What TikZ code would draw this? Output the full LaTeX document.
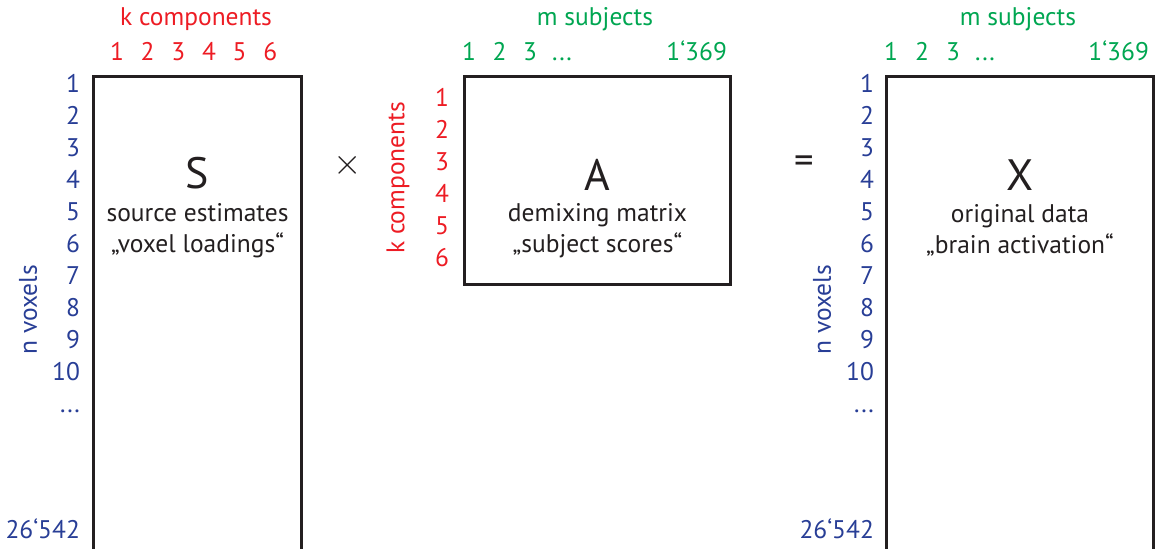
\documentclass[tikz,border=0pt]{standalone}
\usepackage{fontspec}
\setmainfont{PT Sans}
\usetikzlibrary{positioning, calc}
\definecolor{CompRed}{RGB}{237,28,36}
\definecolor{SubjGreen}{RGB}{0,166,81}
\definecolor{VoxBlue}{RGB}{40,62,150}
\definecolor{MatGray}{RGB}{35,31,32}

\begin{document}
\begin{tikzpicture}[
		mat/.style={draw=MatGray, line width=1.7pt, anchor=north west, inner sep=0pt},
		lbl/.style={font=\fontsize{14.5}{17}\selectfont, inner sep=1pt, text height=10pt, text depth=0pt},
		axislbl/.style={font=\fontsize{14.5}{17}\selectfont, inner sep=1pt},
		matname/.style={font=\fontsize{25}{30}\selectfont, text=MatGray},
		matdesc/.style={font=\fontsize{14.5}{17.6}\selectfont, align=center, text=MatGray},
		matop/.style={font=\fontsize{22}{26}\selectfont, text=MatGray}]
	\useasboundingbox (0,0) rectangle (23.18,10.96);
	\clip (0,0) rectangle (23.18,10.96);

	% matrices
	\node[mat, minimum width=4.16cm, minimum height=9.8cm] (S) at (1.84,9.46) {};
	\node[mat, minimum width=5.32cm, minimum height=4.16cm] (A) at (9.26,9.46) {};
	\node[mat, minimum width=5.34cm, minimum height=9.8cm] (X) at (17.70,9.46) {};

	\node[matname] (Sname) at ($(S.north)+(0,-1.96)$) {S};
	\node[matdesc] (Sdesc) at ($(S.north)+(0,-3.11)$) {source estimates\\„voxel loadings“};
	\node[matname] (Aname) at ($(A.north)+(0,-2.0)$) {A};
	\node[matdesc] (Adesc) at ($(A.north)+(0,-3.11)$) {demixing matrix\\„subject scores“};
	\node[matname] (Xname) at ($(X.north)+(0,-2.0)$) {X};
	\node[matdesc] (Xdesc) at ($(X.north)+(0,-3.11)$) {original data\\„brain activation“};

	\node[matop] (times) at (6.96,7.66) {$\times$};
	\node[matop] (equals) at (16.08,7.66) {=};

	% S: components on top, voxels left
	\node[axislbl, text=CompRed] (Sk) at (3.92,10.58) {k components};
	\foreach \i in {1,...,6}
		\node[lbl, text=CompRed] (Sc\i) at ({2.34+0.613*(\i-1)},9.92) {\i};
	\foreach \i in {1,...,10}
		\node[lbl, text=VoxBlue, anchor=east] (Sr\i) at (1.64,{9.92-0.64*\i}) {\i};
	\node[lbl, text=VoxBlue, anchor=east] (Srdots) at (1.64,2.88) {...};
	\node[lbl, text=VoxBlue, anchor=east] (Srn) at (1.64,0.36) {26‘542};
	\node[axislbl, text=VoxBlue, rotate=90] (Sn) at (0.56,4.76) {n voxels};

	% A: subjects on top, components left
	\node[axislbl, text=SubjGreen] (Am) at (11.90,10.58) {m subjects};
	\foreach \i in {1,2,3}
		\node[lbl, text=SubjGreen] (Ac\i) at ({9.38+0.61*(\i-1)},9.92) {\i};
	\node[lbl, text=SubjGreen] (Acdots) at (11.24,9.92) {...};
	\node[lbl, text=SubjGreen, anchor=east] (Acm) at (14.58,9.92) {1‘369};
	\foreach \i in {1,...,6}
		\node[lbl, text=CompRed, anchor=east] (Ar\i) at (9.02,{9.64-0.64*\i}) {\i};
	\node[axislbl, text=CompRed, rotate=90] (Ak) at (7.96,7.40) {k components};

	% X: subjects on top, voxels left
	\node[axislbl, text=SubjGreen] (Xm) at (20.36,10.58) {m subjects};
	\foreach \i in {1,2,3}
		\node[lbl, text=SubjGreen] (Xc\i) at ({17.82+0.62*(\i-1)},9.92) {\i};
	\node[lbl, text=SubjGreen] (Xcdots) at (19.70,9.92) {...};
	\node[lbl, text=SubjGreen, anchor=east] (Xcm) at (23.02,9.92) {1‘369};
	\foreach \i in {1,...,10}
		\node[lbl, text=VoxBlue, anchor=east] (Xr\i) at (17.52,{9.92-0.64*\i}) {\i};
	\node[lbl, text=VoxBlue, anchor=east] (Xrdots) at (17.52,2.88) {...};
	\node[lbl, text=VoxBlue, anchor=east] (Xrn) at (17.52,0.36) {26‘542};
	\node[axislbl, text=VoxBlue, rotate=90] (Xn) at (16.44,4.76) {n voxels};
\end{tikzpicture}
\end{document}
